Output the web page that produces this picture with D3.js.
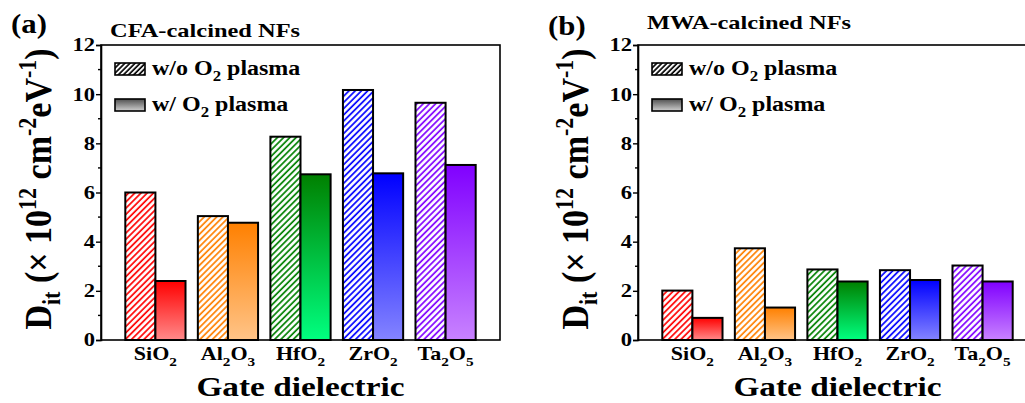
<!DOCTYPE html>
<html><head><meta charset="utf-8">
<script src="https://cdn.jsdelivr.net/npm/d3@7"></script>
<style>
body{margin:0;background:#fff;}
svg text, svg tspan{font-family:"Liberation Serif","Times New Roman",Times,serif;font-weight:bold;fill:#000;}
</style></head>
<body><svg id="chart" width="1025" height="403"></svg>
<script>
// ---- data ----
const categories = ["SiO2", "Al2O3", "HfO2", "ZrO2", "Ta2O5"];
const cfaWithout = [6.00, 5.04, 8.27, 10.17, 9.65];
const cfaWith    = [2.40, 4.77, 6.74, 6.78, 7.12];
const mwaWithout = [2.01, 3.73, 2.87, 2.84, 3.03];
const mwaWith    = [0.90, 1.32, 2.38, 2.44, 2.38];
const yTicks = [0, 2, 4, 6, 8, 10, 12];
const yMinorTicks = [1, 3, 5, 7, 9, 11];
const panelLetters = ["(a)", "(b)"];
const panelTitles = ["CFA-calcined NFs", "MWA-calcined NFs"];
const legendLabels = [["w/o O", "2", " plasma"], ["w/ O", "2", " plasma"]];
const xTitle = "Gate dielectric";

// ---- styles ----
const topColors    = ["#ff0000", "#ff8000", "#008000", "#0000ff", "#8000ff"];
const bottomColors = ["#ff8a8a", "#ffc488", "#00ff80", "#8484ff", "#c882ff"];

const svg = d3.select("#chart");
const defs = svg.append("defs");

function hatch(id, color, w) {
  const p = defs.append("pattern").attr("id", id)
    .attr("patternUnits", "userSpaceOnUse")
    .attr("width", w).attr("height", 10)
    .attr("patternTransform", "rotate(45)");
  p.append("rect").attr("width", w).attr("height", 10).attr("fill", "#fff");
  p.append("line").attr("x1", 1).attr("x2", 1).attr("y1", 0).attr("y2", 10)
    .attr("stroke", color).attr("stroke-width", 1.7);
}
function grad(id, c1, c2) {
  const g = defs.append("linearGradient").attr("id", id)
    .attr("x1", 0).attr("y1", 0).attr("x2", 0).attr("y2", 1);
  g.append("stop").attr("offset", "0%").attr("stop-color", c1);
  g.append("stop").attr("offset", "100%").attr("stop-color", c2);
}
topColors.forEach((c, i) => { hatch("h" + i, c, 4.4); grad("g" + i, c, bottomColors[i]); });
hatch("hk", "#000", 3.6);
grad("gk", "#505050", "#d0d0d0");

const W = 399, H = 295;
const x = d3.scaleLinear().domain([0.25, 5.75]).range([0, W]);
const y = d3.scaleLinear().domain([0, 12]).range([H, 0]);
const barW = 0.415;

// horizontally stretched text (the reference glyphs are wider than Liberation Serif)
function stext(parent, px, py, size, sx, anchor) {
  return parent.append("g").attr("transform", `translate(${px},${py}) scale(${sx},1)`)
    .append("text").attr("text-anchor", anchor || "start").attr("font-size", size);
}

function subText(sel, str, base, sub, dy) {
  const parts = str.match(/[A-Za-z]+|\d+/g);
  let pending = 0;
  parts.forEach(p => {
    if (/\d/.test(p)) {
      sel.append("tspan").attr("font-size", sub).attr("dy", dy - pending).text(p);
      pending = dy;
    } else {
      sel.append("tspan").attr("font-size", base).attr("dy", -pending).text(p);
      pending = 0;
    }
  });
}

function drawPanel(ox, oy, without, withv, idx) {
  const g = svg.append("g").attr("transform", `translate(${ox},${oy})`);

  // bars
  categories.forEach((c, i) => {
    const cx = i + 1;
    g.append("rect")
      .attr("x", x(cx - barW)).attr("width", x(cx) - x(cx - barW))
      .attr("y", y(without[i])).attr("height", y(0) - y(without[i]))
      .attr("fill", `url(#h${i})`).attr("stroke", "#000").attr("stroke-width", 2);
    g.append("rect")
      .attr("x", x(cx)).attr("width", x(cx + barW) - x(cx))
      .attr("y", y(withv[i])).attr("height", y(0) - y(withv[i]))
      .attr("fill", `url(#g${i})`).attr("stroke", "#000").attr("stroke-width", 2);
  });

  // frame
  g.append("rect").attr("x", 0).attr("y", 0).attr("width", W).attr("height", H)
    .attr("fill", "none").attr("stroke", "#000").attr("stroke-width", 1.6);

  // y axis
  const ya = g.append("g").call(d3.axisLeft(y).tickValues(yTicks).tickSize(5).tickPadding(1).tickFormat(d3.format("d")));
  ya.attr("font-family", null).attr("font-size", null);
  ya.select(".domain").attr("stroke-width", 1.6);
  ya.selectAll(".tick line").attr("stroke-width", 1.4);
  ya.selectAll(".tick text").attr("font-size", 18.5)
    .attr("transform", function () { return `translate(${+d3.select(this).attr("x")},0) scale(1.22,1)`; })
    .attr("x", 0);
  g.append("g").selectAll("line").data(yMinorTicks).join("line")
    .attr("x1", -3).attr("x2", 0).attr("y1", d => y(d)).attr("y2", d => y(d))
    .attr("stroke", "#000").attr("stroke-width", 1.4);

  // x tick labels
  categories.forEach((c, i) => {
    const t = stext(g, x(i + 1), H + 20, 19.5, 1.13, "middle");
    subText(t, c, 19.5, 13.5, 6);
  });

  // x title
  stext(g, W / 2, H + 56, 28, 1.19, "middle").text(xTitle);

  // y title (rotated)
  const yt = g.append("g").attr("transform", `translate(${-50},${144}) scale(1.1,1) rotate(-90)`)
    .append("text").attr("text-anchor", "middle").attr("font-size", 34);
  yt.append("tspan").text("D");
  yt.append("tspan").attr("font-size", 22).attr("dy", 8).text("it");
  yt.append("tspan").attr("dy", -8).text(" (\u00d7 10");
  yt.append("tspan").attr("font-size", 22).attr("dy", -14).text("12");
  yt.append("tspan").attr("dy", 14).text(" cm");
  yt.append("tspan").attr("font-size", 22).attr("dy", -14).text("-2");
  yt.append("tspan").attr("dy", 14).text("eV");
  yt.append("tspan").attr("font-size", 22).attr("dy", -14).text("-1");
  yt.append("tspan").attr("dy", 14).text(")");

  // panel letter and title
  stext(svg, ox - 90, idx === 0 ? 33 : 35, 28, 1.1).text(panelLetters[idx]);
  stext(svg, ox + 9, idx === 0 ? 37 : 29, 18.5, 1.32).text(panelTitles[idx]);

  // legend
  const fills = ["url(#hk)", "url(#gk)"];
  const ly = [18, 54];
  legendLabels.forEach((lab, k) => {
    g.append("rect").attr("x", 14).attr("y", ly[k]).attr("width", 30).attr("height", 12)
      .attr("fill", fills[k]).attr("stroke", "#000").attr("stroke-width", 1.6);
    const t = stext(g, 51, ly[k] + 12, 20, 1.2);
    t.append("tspan").text(lab[0]);
    t.append("tspan").attr("font-size", 14).attr("dy", 6).text(lab[1]);
    t.append("tspan").attr("dy", -6).text(lab[2]);
  });
}

drawPanel(101, 45, cfaWithout, cfaWith, 0);
drawPanel(638, 45, mwaWithout, mwaWith, 1);
</script>
</body></html>
